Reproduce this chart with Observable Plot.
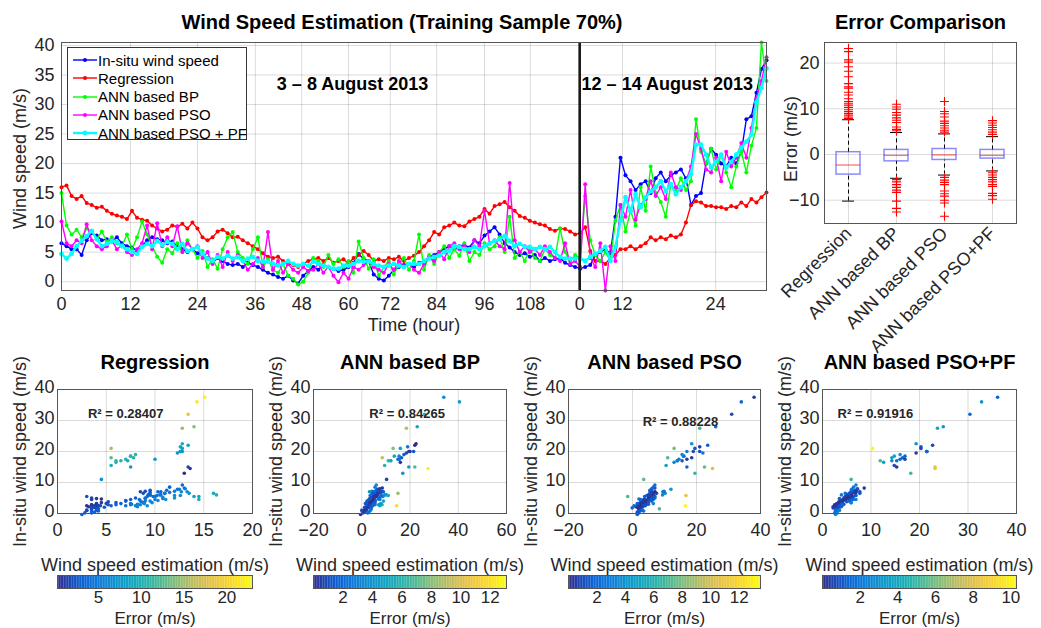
<!DOCTYPE html>
<html><head><meta charset="utf-8">
<script src="https://cdn.jsdelivr.net/npm/d3@7"></script>
<script src="https://cdn.jsdelivr.net/npm/@observablehq/plot@0.6"></script>
<style>
body{margin:0;background:#fff;}
#fig{position:relative;width:1041px;height:628px;overflow:hidden;font-family:"Liberation Sans",Arial,Helvetica,sans-serif;background:#fff;}
#legend{position:absolute;left:67px;top:47px;width:180px;height:93px;border:1px solid #333;background:#fff;font-size:15px;color:#000;box-sizing:border-box;}
#legend .row{position:absolute;left:4px;height:18px;display:flex;align-items:center;white-space:nowrap;}
</style></head>
<body><div id="fig"><div id="legend"></div></div>
<script>
// ---------- time series (sample index; hours labelled on axis) ----------
const seriesNames = ["In-situ wind speed","Regression","ANN based BP","ANN based PSO","ANN based PSO + PF"];
const seriesColors = ["#0000ff","#ff0000","#00ff00","#ff00ff","#00ffff"];
const insitu = [6.5,6.0,5.5,5.5,4.5,7.0,8.2,7.8,7.0,7.2, 6.8,7.5,6.5,6.0,5.8,5.2,6.0,7.0,7.5,7.2,
 7.0,6.5,6.8,6.0,5.5,5.0,5.5,4.8,4.5,4.0, 3.2,4.0,3.5,3.0,2.8,3.0,2.5,3.2,2.8,2.5,
 2.0,1.5,1.2,0.8,0.5,1.0,0.2,-0.3,1.0,1.8, 2.5,2.0,2.8,2.5,2.2,1.8,2.0,2.5,3.2,4.7,
 3.8,3.5,1.2,0.5,0.2,1.0,2.0,2.5,2.8,3.0, 2.5,3.2,3.5,4.2,4.5,5.0,5.5,6.0,5.5,6.0,
 6.2,5.8,7.0,6.5,7.8,8.5,9.2,8.0,6.5,5.8, 5.0,4.5,4.8,4.2,4.5,3.5,4.0,3.5,3.8,4.0,
 3.2,2.8,2.5,2.2,2.5,2.8,4.5,5.0,5.5,4.8, 11.0,21.0,18.0,17.0,15.5,16.5,17.0,15.0,17.5,18.5,
 17.0,18.0,18.5,19.0,17.5,13.0,14.5,15.0,20.0,22.5, 21.5,20.0,19.5,21.0,20.0,22.0,27.5,28.0,32.0,36.0,37.5];
const regression = [16.0,16.3,14.5,14.0,14.5,13.3,13.0,12.5,12.7,12.0, 11.5,11.2,11.0,10.6,12.0,10.8,10.5,10.3,9.5,9.0,
 8.5,8.8,9.5,9.3,9.8,9.0,10.0,9.0,7.5,7.0, 7.5,8.5,8.8,8.2,7.5,7.6,7.0,6.5,6.0,5.5,
 4.8,4.2,4.0,4.2,3.5,3.0,2.8,2.5,3.0,3.5, 3.8,4.0,3.5,4.0,3.2,3.5,3.8,3.0,4.0,4.5,
 5.2,4.5,3.5,3.8,3.5,4.0,3.8,4.2,3.5,4.0, 4.4,5.0,6.0,7.0,8.4,8.0,9.2,9.5,10.0,9.5,
 9.4,10.2,10.6,11.0,12.3,11.5,12.8,13.1,13.5,12.6, 12.0,11.1,10.8,10.3,10.0,9.7,9.5,8.9,8.6,9.0,
 8.9,8.5,8.0,8.2,9.2,5.2,3.5,3.5,3.0,4.0, 4.5,5.5,5.5,6.0,5.5,6.0,6.5,7.5,7.0,7.5,
 7.2,7.8,7.5,8.0,10.0,13.0,13.6,13.4,12.8,12.8, 12.6,12.6,12.3,12.8,12.6,13.4,12.8,14.0,13.4,14.3,15.1];
const annBP = [15.0,9.5,8.0,8.8,7.5,9.0,8.5,7.2,8.5,6.8, 7.5,6.5,6.0,8.0,5.5,7.5,10.2,8.0,6.0,4.2,
 3.2,5.5,4.8,6.5,5.0,7.0,5.5,4.0,5.2,2.5, 3.8,2.2,5.5,7.5,8.4,5.0,4.0,3.0,5.5,7.5,
 2.5,3.8,2.0,1.5,3.0,1.0,0.5,-0.5,0.0,1.5, 4.0,3.5,2.5,4.5,3.0,3.8,2.5,3.5,1.5,6.8,
 4.0,2.2,3.8,1.0,2.5,3.5,1.2,3.0,4.0,2.0, 3.5,8.0,2.0,4.5,3.0,5.0,6.0,4.0,5.5,4.4,
 6.5,3.5,5.0,4.5,6.5,5.5,6.0,7.5,5.0,11.0, 4.0,5.0,3.5,5.5,4.0,3.5,5.5,4.5,4.0,9.0,
 5.0,3.5,4.5,4.0,14.5,7.0,4.5,3.5,5.0,3.5, 10.3,13.0,8.5,12.0,9.5,16.0,12.0,19.5,15.0,13.5,
 11.0,16.5,15.5,17.5,15.5,17.0,27.5,22.0,20.0,22.5, 19.0,21.5,18.5,16.0,19.5,22.0,18.5,23.0,26.0,40.5,34.0];
const annPSO = [10.2,6.5,6.0,7.0,6.5,9.7,7.0,6.0,5.5,6.0, 7.0,5.5,6.2,5.0,4.5,5.5,6.5,9.5,5.5,9.9,
 6.0,7.5,6.0,9.4,5.0,6.5,5.5,6.0,4.0,5.0, 3.0,4.5,2.5,5.0,3.5,4.5,3.5,2.0,3.0,4.0,
 2.5,8.4,2.0,3.5,1.5,3.0,2.0,1.5,2.5,1.8, 2.0,3.0,1.5,2.5,1.0,-0.1,1.5,0.5,2.5,2.0,
 2.8,3.5,2.5,2.0,1.5,3.0,2.0,3.5,2.5,3.0, 2.0,1.5,3.0,4.0,3.5,5.0,3.8,6.0,6.5,5.5,
 6.0,5.0,7.0,6.0,12.0,6.5,7.0,6.0,5.5,16.7, 7.0,5.0,6.0,5.0,5.5,4.5,6.0,5.0,4.0,3.5,
 6.5,3.0,3.5,2.5,16.5,4.0,2.5,6.5,-1.5,6.0, 3.5,13.0,11.0,15.5,10.5,13.0,14.0,17.0,14.5,16.0,
 14.0,18.5,16.0,15.5,17.0,19.5,25.0,22.5,19.0,18.5, 21.0,17.0,22.0,19.5,21.0,23.5,21.0,26.0,31.0,34.0,38.0];
const annPSOPF = [4.7,3.9,4.7,6.0,6.9,7.7,8.6,7.2,6.0,6.4, 6.9,6.7,6.0,5.5,5.0,4.7,5.9,6.4,6.0,6.9,
 6.2,6.7,6.4,5.5,6.4,5.2,5.5,5.9,4.7,3.9, 3.5,4.2,3.9,4.4,3.9,4.2,3.5,3.9,4.2,3.5,
 3.4,3.4,3.0,2.7,3.0,3.5,3.0,2.7,3.0,2.7, 3.4,3.0,2.7,2.5,2.2,2.2,2.7,2.7,3.0,3.5,
 3.4,3.4,3.0,2.7,2.5,2.7,3.0,2.7,2.5,3.0, 3.0,3.0,3.5,3.9,4.2,4.4,5.0,5.2,6.0,5.9,
 5.5,5.5,5.9,5.5,6.0,6.4,6.9,7.2,7.7,6.9, 6.0,6.4,5.9,5.9,5.5,5.9,5.5,5.9,5.0,4.2,
 3.9,3.9,3.9,3.9,3.5,4.2,4.7,5.2,5.9,3.5, 5.9,10.3,14.3,11.9,14.8,12.6,14.3,15.3,16.0,17.0,
 15.3,16.5,14.8,16.0,17.0,18.2,23.2,23.2,21.5,19.3, 20.3,21.5,19.3,20.3,21.5,22.7,23.7,24.9,30.4,32.8,36.1];
const windTicks = [0,5,10,15,20,25,30,35,40];
const timeTickPos = [0,13.7,27.0,38.5,47.7,57.0,65.3,74.5,84.0,93.1,102.9,111.4,129.9];
const timeTickLabel = ["0","12","24","36","48","60","72","84","96","108","0","12","24"];
const separatorPos = [102.9];
const annoText = ["3 – 8 August 2013","12 – 14 August 2013"];
const annoX = [57.8,120.3];
const annoY = [33.4,33.4];

// ---------- box plot statistics (error, m/s) ----------
const boxNames = ["Regression","ANN based BP","ANN based PSO","ANN based PSO+PF"];
const boxQ1 = [-4.4,-1.5,-1.2,-0.9];
const boxMed = [-2.3,-0.2,-0.1,-0.2];
const boxQ3 = [0.5,1.0,1.2,1.0];
const boxLo = [-10.2,-5.2,-4.5,-3.6];
const boxHi = [7.6,4.8,4.5,3.9];
const outReg = [7.9,8.2,8.6,9.0,9.4,9.8,10.3,10.8,11.2,11.6,12.2,13.0,13.6,14.5,14.8,15.5,17.0,18.2,19.2,20.2,20.7,22.5,23.2];
const outBP = [5.2,5.5,6.0,7.0,7.5,8.0,8.6,9.2,9.9,10.4,11.0,-5.5,-6.0,-6.6,-7.2,-7.8,-8.3,-10.2,-11.8,-12.6];
const outPSO = [4.9,5.3,5.8,6.3,6.8,7.3,8.2,8.9,9.4,11.6,-5.0,-5.6,-6.1,-6.6,-8.0,-8.6,-9.1,-10.0,-10.6,-13.5];
const outPF = [4.4,4.9,5.4,5.9,6.4,6.9,7.4,-4.0,-4.5,-5.0,-5.5,-6.0,-6.6,-7.0,-8.5,-9.0,-9.8];
const errTicks = [-10,0,10,20];

// ---------- scatter panels ----------
const scTitles = ["Regression","ANN based BP","ANN based PSO","ANN based PSO+PF"];
const scR2 = ["0.28407","0.84265","0.88228","0.91916"];
const scXTicks = [[0,5,10,15,20],[-20,0,20,40,60],[-20,0,20,40],[0,10,20,30,40]];
const scYTicks = [0,10,20,30,40];
const cbDomain = [[0.2,23],[0,13.1],[0,13.5],[0,10.3]];
const cbTicks = [[5,10,15,20],[2,4,6,8,10,12],[2,4,6,8,10,12],[2,4,6,8,10]];
const r2X = [7,18.8,15,10.9];
const r2Y = [32,32,29.7,32];

// ---------- layout ----------
const FONT = '"Liberation Sans", Arial, Helvetica, sans-serif';
const style = {fontFamily: FONT, fontSize: "18px", color: "#262626", background: "transparent", overflow: "visible"};
const grid = {stroke: "#000", strokeOpacity: 0.14};
const fig = document.getElementById("fig");
function place(el, left, top){ el.style.position="absolute"; el.style.left=left+"px"; el.style.top=top+"px"; fig.appendChild(el); }
const parula = d3.interpolateRgbBasis(["#352a87","#0363e1","#1485d4","#06a7c6","#38b99e","#92bf73","#d9ba56","#fcce2e","#f9fb0e"]);
const lbl = {textAnchor: "middle", lineAnchor: "middle"};

// main time-series chart
const seriesValues = [insitu, regression, annBP, annPSO, annPSOPF];
const N = insitu.length;
const allVals = seriesValues.flat();
const tickLabelMap = new Map(timeTickPos.map((p,i)=>[p,timeTickLabel[i]]));
const seriesMarks = seriesValues.flatMap((vals, s) => [
  Plot.line(vals, {x: (d,i)=>i, y: d=>d, stroke: seriesColors[s], strokeWidth: s===4 ? 2.4 : 1.4}),
  Plot.dot(vals, {x: (d,i)=>i, y: d=>d, fill: seriesColors[s], r: s===4 ? 2.4 : 2})
]);
const main = Plot.plot({
  width: 780, height: 340, marginLeft: 61, marginRight: 14, marginTop: 42, marginBottom: 50,
  style,
  x: {domain: [0, N-1]},
  y: {domain: d3.extent(allVals)},
  marks: [
    Plot.gridX(timeTickPos, grid),
    Plot.gridY(windTicks, grid),
    ...seriesMarks,
    Plot.ruleX(separatorPos, {stroke: "#1a1a1a", strokeWidth: 2.6}),
    Plot.axisX(timeTickPos, {tickSize: 0, tickPadding: 7, tickFormat: d => tickLabelMap.get(d), label: null}),
    Plot.axisY(windTicks, {tickSize: 0, tickPadding: 7, label: null}),
    Plot.frame({stroke: "#555"}),
    Plot.text(annoText, {x: (d,i)=>annoX[i], y: (d,i)=>annoY[i], text: d=>d, fontSize: 18, fontWeight: "bold", fill: "#000"}),
    Plot.text(["Wind Speed Estimation (Training Sample 70%)"], {...lbl, frameAnchor: "top", dy: -20, dx: -12, text: d=>d, fontSize: 20, fontWeight: "bold", fill: "#000"}),
    Plot.text(["Time (hour)"], {...lbl, frameAnchor: "bottom", dy: 35, text: d=>d, fontSize: 18, fill: "#262626"}),
    Plot.text(["Wind speed (m/s)"], {...lbl, frameAnchor: "left", dx: -41, dy: -8, rotate: -90, text: d=>d, fontSize: 18, fill: "#262626"})
  ]
});
place(main, 0, 0);

// legend
const legend = document.getElementById("legend");
fig.appendChild(legend);
seriesNames.forEach((name, s) => {
  const row = document.createElement("div");
  row.className = "row";
  row.style.top = (3 + s*18.3) + "px";
  row.innerHTML = `<svg width="26" height="10" style="margin-right:0px"><line x1="1" y1="5" x2="25" y2="5" stroke="${seriesColors[s]}" stroke-width="${s===4?2.4:1.4}"/><circle cx="13" cy="5" r="${s===4?2.4:2}" fill="${seriesColors[s]}"/></svg><span>${name}</span>`;
  legend.appendChild(row);
});

// box plot
const boxStats = boxNames.map((name,i)=>({name, q1: boxQ1[i], med: boxMed[i], q3: boxQ3[i], lo: boxLo[i], hi: boxHi[i]}));
const outliers = [outReg, outBP, outPSO, outPF].flatMap((arr,k)=>arr.map(v=>({name: boxNames[k], v})));
const box = Plot.plot({
  width: 271, height: 340, marginLeft: 54, marginRight: 25, marginTop: 42, marginBottom: 117,
  style,
  x: {domain: boxNames, padding: 0},
  y: {domain: [-15.1, 24.5]},
  marks: [
    Plot.gridX(boxNames, grid),
    Plot.gridY(errTicks, grid),
    Plot.ruleX(boxStats, {x: "name", y1: "q3", y2: "hi", stroke: "#000", strokeDasharray: "4,3"}),
    Plot.ruleX(boxStats, {x: "name", y1: "lo", y2: "q1", stroke: "#000", strokeDasharray: "4,3"}),
    Plot.tickY(boxStats, {x: "name", y: "hi", stroke: "#000", insetLeft: 18, insetRight: 18}),
    Plot.tickY(boxStats, {x: "name", y: "lo", stroke: "#000", insetLeft: 18, insetRight: 18}),
    Plot.rect(boxStats, {x: "name", y1: "q1", y2: "q3", fill: "none", stroke: "#2b2bff", strokeOpacity: 0.55, strokeWidth: 1.5, insetLeft: 12, insetRight: 12}),
    Plot.tickY(boxStats, {x: "name", y: "med", stroke: "#ff0000", strokeOpacity: 0.55, strokeWidth: 1.3, insetLeft: 12, insetRight: 12}),
    Plot.dot(outliers, {x: "name", y: "v", symbol: "plus", stroke: "#ff0000", r: 3, strokeWidth: 1.1}),
    Plot.axisX({tickRotate: -45, tickSize: 0, tickPadding: 7, label: null}),
    Plot.axisY(errTicks, {tickSize: 0, tickPadding: 5, label: null}),
    Plot.frame({stroke: "#555"}),
    Plot.text(["Error Comparison"], {...lbl, frameAnchor: "top", dy: -20, text: d=>d, fontSize: 20, fontWeight: "bold", fill: "#000"}),
    Plot.text(["Error (m/s)"], {...lbl, frameAnchor: "left", dx: -33, dy: 6, rotate: -90, text: d=>d, fontSize: 18, fill: "#262626"})
  ]
});
place(box, 770, 0);

// scatter panels + colour bars
const estSeries = [regression, annBP, annPSO, annPSOPF];
const frameLeft = [57, 313, 568, 822];
const frameWidth = [195, 193, 192, 194];
estSeries.forEach((est, k) => {
  const pts = insitu.map((y,i)=>({x: est[i], y, e: Math.abs(est[i]-y)}));
  const color = {type: "linear", domain: cbDomain[k], interpolate: parula, clamp: true};
  const xt = scXTicks[k];
  const W = 57 + frameWidth[k] + 25;
  const sc = Plot.plot({
    width: W, height: 240, marginLeft: 57, marginRight: 25, marginTop: 49, marginBottom: 67,
    style, color,
    x: {domain: [xt[0], xt[xt.length-1]]},
    y: {domain: [0, 40]},
    marks: [
      Plot.gridX(xt, grid),
      Plot.gridY(scYTicks, grid),
      Plot.dot(pts, {x: "x", y: "y", fill: "e", r: 1.8}),
      Plot.axisX(xt, {tickSize: 0, tickPadding: 10, label: null}),
      Plot.axisY(scYTicks, {tickSize: 0, tickPadding: 3, dy: -2, label: null}),
      Plot.frame({stroke: "#555"}),
      Plot.text(["R² = " + scR2[k]], {x: r2X[k], y: r2Y[k], text: d=>d, fontSize: 13, fontWeight: "bold", fill: "#262626"}),
      Plot.text([scTitles[k]], {...lbl, frameAnchor: "top", dy: -27, text: d=>d, fontSize: 20, fontWeight: "bold", fill: "#000"}),
      Plot.text(["Wind speed estimation (m/s)"], {...lbl, frameAnchor: "bottom", dy: 52, text: d=>d, fontSize: 18, fill: "#262626"}),
      Plot.text(["In-situ wind speed (m/s)"], {...lbl, frameAnchor: "left", dx: -37, rotate: -90, text: d=>d, fontSize: 18, fill: "#262626"})
    ]
  });
  place(sc, frameLeft[k] - 57, 340);
  const [d0, d1] = cbDomain[k];
  const nSteps = 120, step = (d1 - d0) / nSteps;
  const steps = d3.range(nSteps).map(j => d0 + j*step);
  const cb = Plot.plot({
    width: W, height: 60, marginLeft: 57, marginRight: 25, marginTop: 5, marginBottom: 42,
    style: {...style, fontSize: "17px"}, color,
    x: {domain: cbDomain[k]},
    y: {domain: [0, 1], axis: null},
    marks: [
      Plot.rect(steps, {x1: d=>d, x2: d=>Math.min(d1, d + step*1.05), y1: 0, y2: 1, fill: d=>d + step/2}),
      Plot.frame({stroke: "#555"}),
      Plot.axisX(cbTicks[k], {tickSize: 0, tickPadding: 2, label: null}),
      Plot.text(["Error (m/s)"], {...lbl, frameAnchor: "bottom", dy: 30, text: d=>d, fontSize: 17, fill: "#262626"})
    ]
  });
  place(cb, frameLeft[k] - 57, 570);
});
</script></body></html>
